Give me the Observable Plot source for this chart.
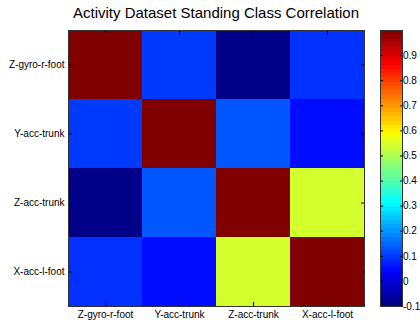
<!DOCTYPE html>
<html>
<head>
<meta charset="utf-8">
<script src="https://cdn.jsdelivr.net/npm/d3@7"></script>
<script src="https://cdn.jsdelivr.net/npm/@observablehq/plot@0.6"></script>
<style>
  body { margin: 0; background: #fff; }
  #chart { position: relative; width: 420px; height: 322px; overflow: hidden;
           font-family: "Liberation Sans", Arial, sans-serif; color: #000; }
  #title { position: absolute; left: 68px; width: 296px; top: 4px; text-align: center;
           font-size: 15px; white-space: nowrap; }
  #main, #bar { position: absolute; top: 0; }
  #main { left: 0; }
  #bar { left: 370px; }
  svg { overflow: visible; }
</style>
</head>
<body>
<div id="chart">
  <div id="title">Activity Dataset Standing Class Correlation</div>
  <div id="main"></div>
  <div id="bar"></div>
</div>
<script>
// Sensor channels, in row/column order
const sensors = ["Z-gyro-r-foot", "Y-acc-trunk", "Z-acc-trunk", "X-acc-l-foot"];

// Correlation matrix rows (standing class)
const zGyroRFoot = [1.00, 0.10, -0.09, 0.09];
const yAccTrunk  = [0.10, 1.00, 0.13, 0.05];
const zAccTrunk  = [-0.09, 0.13, 1.00, 0.54];
const xAccLFoot  = [0.09, 0.05, 0.54, 1.00];

// Colour limits and colorbar tick values
const colorDomain = [-0.1, 1.0];
const colorTicks = [-0.1, 0, 0.1, 0.2, 0.3, 0.4, 0.5, 0.6, 0.7, 0.8, 0.9];

// Classic "jet" colormap, t in [0, 1]
const clamp = v => Math.max(0, Math.min(1, v));
function jet(t) {
  const r = clamp(Math.min(4 * t - 1.5, -4 * t + 4.5));
  const g = clamp(Math.min(4 * t - 0.5, -4 * t + 3.5));
  const b = clamp(Math.min(4 * t + 0.5, -4 * t + 2.5));
  return `rgb(${Math.round(r * 255)},${Math.round(g * 255)},${Math.round(b * 255)})`;
}

const rows = [zGyroRFoot, yAccTrunk, zAccTrunk, xAccLFoot];
const cells = sensors.flatMap((r, i) =>
  sensors.map((c, j) => ({row: r, col: c, value: rows[i][j]})));

const colorScale = {type: "linear", domain: colorDomain, interpolate: jet};
const fontStyle = {fontFamily: "Liberation Sans, Arial, sans-serif", fontSize: "10px", background: "transparent"};
const blank = () => "";

const main = Plot.plot({
  width: 380, height: 322,
  marginLeft: 68, marginRight: 16, marginTop: 30, marginBottom: 16,
  style: fontStyle,
  x: {domain: sensors, padding: 0, label: null},
  y: {domain: sensors, padding: 0, label: null},
  color: colorScale,
  marks: [
    Plot.cell(cells, {x: "col", y: "row", fill: "value", inset: 0, shapeRendering: "crispEdges"}),
    Plot.axisX({anchor: "bottom", tickSize: 0, tickPadding: 4}),
    Plot.axisY({anchor: "left", tickSize: 0, tickPadding: 4}),
    Plot.axisX({anchor: "bottom", tickSize: -4, tickFormat: blank}),
    Plot.axisX({anchor: "top", tickSize: -4, tickFormat: blank}),
    Plot.axisY({anchor: "left", tickSize: -4, tickFormat: blank}),
    Plot.axisY({anchor: "right", tickSize: -4, tickFormat: blank}),
    Plot.frame({stroke: "#333"})
  ]
});
document.getElementById("main").append(main);

// Colorbar: 64 bands spanning the colour limits
const nLevels = 64;
const step = (colorDomain[1] - colorDomain[0]) / nLevels;
const levels = d3.range(nLevels).map(i => ({
  lo: colorDomain[0] + i * step,
  hi: colorDomain[0] + (i + 1) * step,
  v: colorDomain[0] + (i + 0.5) * step
}));
const fmt = d => String(+d.toFixed(1));

const bar = Plot.plot({
  width: 50, height: 322,
  marginLeft: 10, marginRight: 18, marginTop: 30, marginBottom: 16,
  style: fontStyle,
  x: {domain: [0, 1], axis: null},
  y: {domain: colorDomain, label: null},
  color: colorScale,
  marks: [
    Plot.rect(levels, {x1: 0, x2: 1, y1: "lo", y2: "hi", fill: "v", shapeRendering: "crispEdges"}),
    Plot.axisY({anchor: "right", ticks: colorTicks, tickSize: 0, tickPadding: 0.5, tickFormat: fmt}),
    Plot.axisY({anchor: "right", ticks: colorTicks, tickSize: -3, tickFormat: blank}),
    Plot.axisY({anchor: "left", ticks: colorTicks, tickSize: -3, tickFormat: blank}),
    Plot.frame({stroke: "#333"})
  ]
});
document.getElementById("bar").append(bar);
</script>
</body>
</html>
